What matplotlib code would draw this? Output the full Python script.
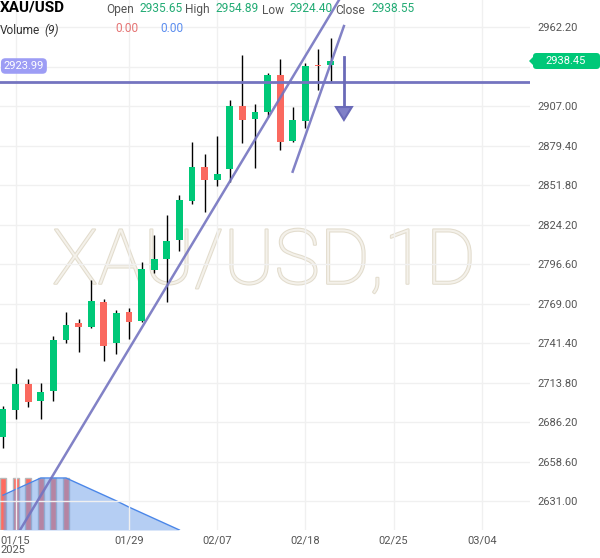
import numpy as np
import matplotlib
matplotlib.use("Agg")
import matplotlib.pyplot as plt
import matplotlib.patheffects as pe
from matplotlib.patches import FancyBboxPatch, Polygon

plt.rcParams['font.family'] = ['Roboto', 'DejaVu Sans']

## -------------------- data (daily XAU/USD candles) -------------------- ##
opens  = [2676.2, 2694.9, 2713.1, 2701.2, 2708.2, 2743.8, 2755.7, 2752.9, 2770.4,
          2741.7, 2763.4, 2757.1, 2792.7, 2800.4, 2813.7, 2841.0, 2864.7, 2855.6,
          2863.3, 2907.3, 2898.3, 2903.2, 2929.0, 2882.9, 2896.9, 2935.5, 2935.65]
highs  = [2697.7, 2724.3, 2716.6, 2713.8, 2746.6, 2763.4, 2758.5, 2785.8, 2772.5,
          2764.8, 2766.2, 2798.3, 2817.2, 2831.2, 2845.2, 2882.2, 2873.8, 2886.4,
          2911.5, 2943.0, 2908.7, 2930.4, 2940.2, 2906.6, 2937.4, 2947.2, 2954.89]
lows   = [2668.4, 2688.6, 2697.0, 2688.6, 2701.2, 2741.7, 2735.4, 2752.2, 2729.1,
          2734.0, 2744.5, 2756.4, 2790.6, 2770.4, 2806.0, 2838.9, 2833.3, 2851.4,
          2854.2, 2881.5, 2864.0, 2899.7, 2876.6, 2882.0, 2892.0, 2918.5, 2924.40]
closes = [2695.6, 2713.1, 2700.5, 2707.5, 2743.8, 2754.3, 2752.9, 2771.1, 2739.6,
          2762.7, 2756.4, 2793.4, 2800.4, 2813.0, 2841.7, 2864.7, 2855.6, 2859.8,
          2907.3, 2897.6, 2903.2, 2929.0, 2882.2, 2897.6, 2935.3, 2935.1, 2938.55]

volumes = [1, 1, 1, 1, 1, 1]
vol_ma = [0.67, 0.78, 0.89, 1.0, 1.0, 1.0, 0.89, 0.78, 0.67, 0.56, 0.44, 0.33, 0.22, 0.11, 0.0]

date_ticks = [1, 10, 17, 24, 31, 38]
date_labels = ['01/15\n2025', '01/29', '02/07', '02/18', '02/25', '03/04']

price_ticks = [2631.00, 2658.60, 2686.20, 2713.80, 2741.40, 2769.00, 2796.60,
               2824.20, 2851.80, 2879.40, 2907.00, 2934.60, 2962.20]

level = 2923.99
last_price = 2938.45
trend1 = ([1.35, 26.67], [2611.0, 2981.4])
trend2 = ([22.99, 27.06], [2861.4, 2963.2])
arrow_x, arrow_from, arrow_to = 27.06, 2941.6, 2897.6

GREEN = '#00c878'
RED = '#fa695f'
LINE = '#7474c0'

## -------------------- figure -------------------- ##
fig = plt.figure(figsize=(6, 5.58), dpi=100)
ax = fig.add_axes([0, 28 / 558, 530 / 600, 530 / 558])
ax2 = ax.twinx()
ax.set_zorder(ax2.get_zorder() + 1)
ax.patch.set_visible(False)

# volume pane
idx_v = np.arange(len(volumes))
ax2.bar(idx_v, volumes, width=0.48, color='#ff6b5f', edgecolor='#b8b8b8', lw=1, zorder=1)
idx_ma = np.arange(len(vol_ma))
ax2.fill_between(idx_ma, 0, vol_ma, color='#6d9ee8', alpha=0.5, lw=0, zorder=2)
ax2.plot(idx_ma, vol_ma, color='#4a86e8', lw=1, zorder=3)
ax2.set_ylim(0, 530 / 52)
ax2.axis('off')

# candles
x = np.arange(len(opens))
o = np.array(opens); c = np.array(closes)
cols = [GREEN if cc >= oo else RED for oo, cc in zip(o, c)]
ax.vlines(x, lows, highs, color='black', lw=1, zorder=2)
ax.bar(x, np.maximum(np.abs(c - o), 0.7), bottom=np.minimum(o, c), width=0.53,
       color=cols, zorder=3)

# drawings
ax.axhline(level, color=LINE, lw=2, zorder=4)
ax.plot(*trend1, color=LINE, lw=1.8, alpha=0.9, zorder=4)
ax.plot(*trend2, color=LINE, lw=1.8, alpha=0.9, zorder=4)
ax.plot([arrow_x, arrow_x], [arrow_from, arrow_to + 9], color='#6a6ab8', lw=2, zorder=4)
ax.add_patch(Polygon([[arrow_x - 0.63, arrow_to + 9], [arrow_x + 0.63, arrow_to + 9],
                      [arrow_x, arrow_to]], closed=True, fc='#8080c8', ec='#6a6ab8',
                     lw=1.5, zorder=4))

# watermark
ax.text(0.498, 1 - 263 / 530, 'XAU/USD,1D', transform=ax.transAxes, ha='center',
        va='center', fontsize=55, fontweight='light', color='#f4f1ea', zorder=0,
        path_effects=[pe.withStroke(linewidth=1.5, foreground='#e2dccd')])

ax.text(0.007, 1 - 66 / 530, '2923.99', transform=ax.transAxes, ha='left', va='center',
        fontsize=8, color='white', zorder=6,
        bbox=dict(boxstyle='round,pad=0.25,rounding_size=0.4', fc='#9d9df5', ec='none'))

# axes
ax.set_xlim(-0.24, 41.83)
ax.set_ylim(2611.0, 2981.4)
ax.yaxis.tick_right()
ax.set_yticks(price_ticks)
# the label under the last-price tag is hidden, as in the source chart
ax.set_yticklabels(['' if abs(p - last_price) < 10 else '%.2f' % p for p in price_ticks])
ax.set_xticks(date_ticks)
ax.set_xticklabels(date_labels)
ax.xaxis.get_ticklabels()[0].set_multialignment('left')
ax.xaxis.get_ticklabels()[0].set_linespacing(0.95)
ax.tick_params(axis='y', length=0, pad=5, labelsize=8, labelcolor='#555555')
ax.tick_params(axis='x', length=0, pad=4, labelsize=8, labelcolor='#555555')
ax.grid(True, color='#f0f0f0', lw=1, zorder=0)
for s in ax.spines.values():
    s.set_visible(False)

# last price tag
fig.patches.append(FancyBboxPatch((533 / 600, 1 - 69 / 558), 67 / 600, 16 / 558,
                                  boxstyle='round,pad=0,rounding_size=0.006',
                                  transform=fig.transFigure, fc=GREEN, ec='none'))
fig.patches.append(Polygon([[533 / 600, 1 - 57 / 558], [529 / 600, 1 - 61 / 558],
                            [533 / 600, 1 - 65 / 558]], closed=True,
                           transform=fig.transFigure, fc=GREEN, ec='none'))
fig.text(566 / 600, 1 - 61 / 558, '%.2f' % last_price, ha='center', va='center',
         fontsize=8, color='white')

# header
def htext(px, py, s, **kw):
    fig.text(px / 600, 1 - py / 558, s, ha='left', va='center', **kw)

htext(0, 8, 'XAU/USD', fontsize=11, fontweight='bold', color='black')
header = [(106, 'Open', 139, opens[-1]), (185, 'High', 215, highs[-1]),
          (262, 'Low', 290, lows[-1]), (335, 'Close', 371, closes[-1])]
for lx, lab, vx, val in header:
    htext(lx, 10, lab, fontsize=8.6, color='#555555')
    htext(vx, 8, '%.2f' % val, fontsize=8.6, color='#22ab74')
htext(0, 30, 'Volume', fontsize=8.6, color='#333333')
htext(44, 30, '(9)', fontsize=8.6, color='#333333', style='italic')
htext(115, 29, '0.00', fontsize=8.6, color='#e57373')
htext(160, 29, '0.00', fontsize=8.6, color='#5b8def')

fig.savefig('out.png', dpi=100)
